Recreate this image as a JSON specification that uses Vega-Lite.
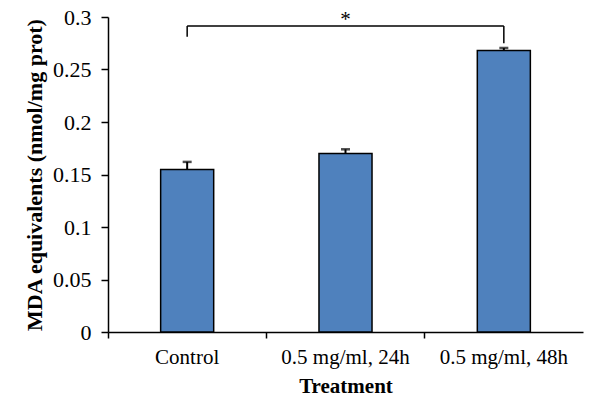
{
  "$schema": "https://vega.github.io/schema/vega-lite/v6.json",
  "width": 475,
  "height": 315,
  "autosize": "none",
  "padding": {"left": 108, "top": 17, "right": 17, "bottom": 70},
  "config": {
    "view": {"stroke": null},
    "font": "Liberation Serif",
    "axis": {"labelFont": "Liberation Serif", "titleFont": "Liberation Serif", "labelColor": "#000", "titleColor": "#000", "domainColor": "#000", "tickColor": "#000", "grid": false}
  },
  "datasets": {
    "bars": [
      {"t": "Control", "v": 0.1547, "hi": 0.1620},
      {"t": "0.5 mg/ml, 24h", "v": 0.1700, "hi": 0.1740},
      {"t": "0.5 mg/ml, 48h", "v": 0.2680, "hi": 0.2705}
    ],
    "bracket": [
      {"a": "Control", "b": "0.5 mg/ml, 48h", "y": 0.2914, "y2": 0.2914}
    ],
    "legs": [
      {"a": "Control", "y": 0.2914, "y2": 0.2813},
      {"a": "0.5 mg/ml, 48h", "y": 0.2914, "y2": 0.2750}
    ],
    "star": [
      {"a": "0.5 mg/ml, 24h", "y": 0.2914, "s": "*"}
    ]
  },
  "layer": [
    {
      "data": {"name": "bars"},
      "mark": {"type": "bar", "fill": "#4F81BD", "stroke": "#000", "strokeWidth": 1.5, "width": {"band": 0.335}},
      "encoding": {
        "x": {
          "field": "t", "type": "nominal", "sort": null,
          "scale": {"type": "band", "paddingInner": 0, "paddingOuter": 0},
          "axis": {
            "title": "Treatment", "titleFontSize": 21, "titleFontWeight": "bold", "titlePadding": 8, "titleFont": "Liberation Serif",
            "labelFont": "Liberation Serif", "labelFontSize": 21, "labelAngle": 0, "labelPadding": 8, "bandPosition": 0,
            "tickSize": 6, "tickWidth": 1.5, "domainWidth": 1.5
          }
        },
        "y": {
          "field": "v", "type": "quantitative",
          "scale": {"domain": [0, 0.3], "nice": false},
          "axis": {
            "title": "MDA equivalents (nmol/mg prot)", "titleFontSize": 22, "titleFontWeight": "bold", "titlePadding": 6, "titleFont": "Liberation Serif",
            "values": [0, 0.05, 0.1, 0.15, 0.2, 0.25, 0.3],
            "labelExpr": "'' + datum.value",
            "labelFont": "Liberation Serif", "labelFontSize": 22, "labelPadding": 10, "tickSize": 7, "tickWidth": 1.5, "domainWidth": 1.5
          }
        }
      }
    },
    {
      "data": {"name": "bars"},
      "mark": {"type": "rule", "color": "#000", "strokeWidth": 2},
      "encoding": {
        "x": {"field": "t", "type": "nominal", "sort": null},
        "y": {"field": "v", "type": "quantitative"},
        "y2": {"field": "hi"}
      }
    },
    {
      "data": {"name": "bars"},
      "mark": {"type": "tick", "color": "#000", "size": 9, "thickness": 2.5},
      "encoding": {
        "x": {"field": "t", "type": "nominal", "sort": null},
        "y": {"field": "hi", "type": "quantitative"}
      }
    },
    {
      "data": {"name": "bracket"},
      "mark": {"type": "rule", "color": "#000", "strokeWidth": 1.5},
      "encoding": {
        "x": {"field": "a", "type": "nominal", "sort": null},
        "x2": {"field": "b"},
        "y": {"field": "y", "type": "quantitative"}
      }
    },
    {
      "data": {"name": "legs"},
      "mark": {"type": "rule", "color": "#000", "strokeWidth": 1.5},
      "encoding": {
        "x": {"field": "a", "type": "nominal", "sort": null},
        "y": {"field": "y", "type": "quantitative"},
        "y2": {"field": "y2"}
      }
    },
    {
      "data": {"name": "star"},
      "mark": {"type": "text", "fontSize": 21, "font": "Liberation Serif", "color": "#000", "dy": -6, "baseline": "middle"},
      "encoding": {
        "x": {"field": "a", "type": "nominal", "sort": null},
        "y": {"field": "y", "type": "quantitative"},
        "text": {"field": "s"}
      }
    }
  ]
}
